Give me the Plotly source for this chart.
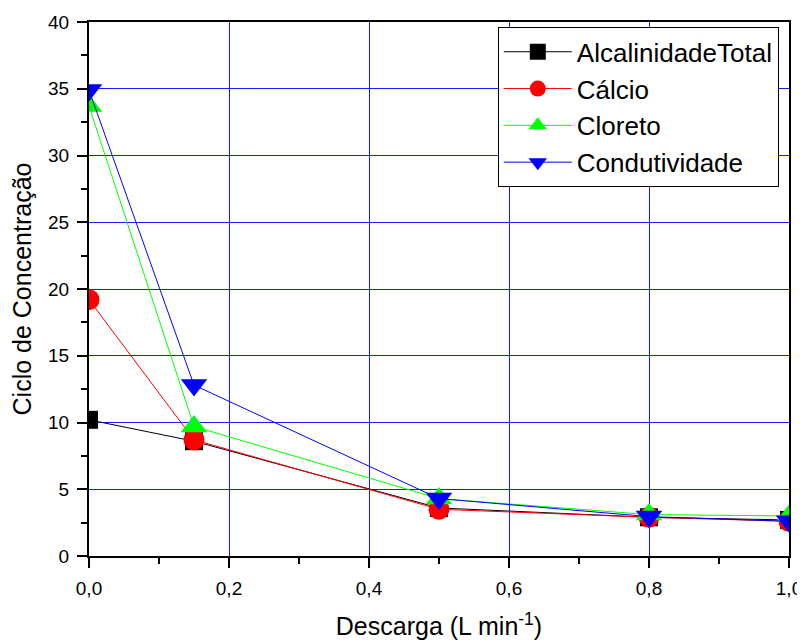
import plotly.graph_objects as go

descarga = [0.0, 0.15, 0.5, 0.8, 1.0]
alcalinidade = [10.2, 8.6, 3.6, 2.9, 2.7]
calcio = [19.2, 8.7, 3.5, 2.9, 2.6]
cloreto = [33.7, 9.7, 4.3, 3.1, 3.0]
condutividade = [34.9, 12.8, 4.3, 2.95, 2.6]

series = [
    ("AlcalinidadeTotal", alcalinidade, "#000000", "square", 18),
    ("Cálcio", calcio, "#ff0000", "circle", 21),
    ("Cloreto", cloreto, "#00ff00", "triangle-up", 23),
    ("Condutividade", condutividade, "#0000ff", "triangle-down", 23),
]

fig = go.Figure()
for name, ys, color, sym, size in series:
    fig.add_trace(go.Scatter(
        x=descarga, y=ys, name=name, mode="lines+markers",
        line=dict(color=color, width=1),
        marker=dict(symbol=sym, size=size, color=color, line=dict(width=0)),
        cliponaxis=True,
    ))

axis_common = dict(
    showline=True, linecolor="black", linewidth=2, mirror=True,
    ticks="outside", tickcolor="black", tickwidth=2, ticklen=10,
    showgrid=True, gridcolor="#1a1aff", gridwidth=1,
    zeroline=False,
    tickfont=dict(size=19, color="black"),
    automargin=False,
)

fig.update_xaxes(
    range=[0, 1.0], dtick=0.2, tickformat=".1f",
    ticklabelstandoff=4,
    minor=dict(dtick=0.1, ticks="outside", ticklen=6, tickcolor="black", tickwidth=2, showgrid=False),
    title=dict(text="Descarga (L min<sup>-1</sup>)", font=dict(size=25, color="black"), standoff=20),
    **axis_common,
)
fig.update_yaxes(
    range=[0, 40], dtick=5,
    ticklabelstandoff=4,
    minor=dict(dtick=2.5, ticks="outside", ticklen=6, tickcolor="black", tickwidth=2, showgrid=False),
    title=dict(text="Ciclo de Concentração", font=dict(size=25, color="black"), standoff=12),
    **axis_common,
)

fig.update_layout(
    width=797, height=634,
    margin=dict(l=81, r=16, t=14, b=86),
    paper_bgcolor="white", plot_bgcolor="white",
    separators=",.",
    font=dict(family="Liberation Sans, Arial, sans-serif", color="black"),
    legend=dict(
        x=0.584, y=0.99, xanchor="left", yanchor="top",
        bgcolor="white", bordercolor="black", borderwidth=1,
        font=dict(size=26, color="black"),
        tracegroupgap=0, itemwidth=68,
    ),
)

fig.write_html("out.html")
